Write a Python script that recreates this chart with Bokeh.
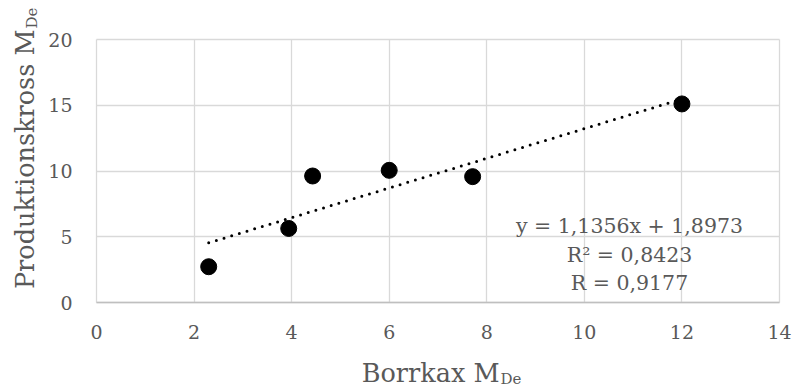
import numpy as np
from bokeh.plotting import figure
from bokeh.models import Label, FixedTicker, Range1d
from bokeh.embed import file_html
from bokeh.resources import INLINE

# Data
borrkax = [2.30, 3.94, 4.43, 6.00, 7.71, 12.00]
produktionskross = [2.72, 5.63, 9.62, 10.05, 9.57, 15.10]
x_ticks = [0, 2, 4, 6, 8, 10, 12, 14]
y_ticks = [0, 5, 10, 15, 20]
eq_lines = ["y = 1,1356x + 1,8973", "R\u00b2 = 0,8423", "R = 0,9177"]
x_title = ["Borrkax M", "De"]
y_title = ["Produktionskross M", "De"]

FONT = "DejaVu Serif"
GREY = "#595959"
GRID = "#d9d9d9"
AXIS = "#bfbfbf"

W, H = 794, 389
L, R, T, B = 96, 779, 39, 302  # plot-area edges in pixels
XMIN, XMAX = x_ticks[0], x_ticks[-1]
YMIN, YMAX = y_ticks[0], y_ticks[-1]
FIX = 8  # label baseline correction (px)

ux = (R - L) / (XMAX - XMIN)
uy = (B - T) / (YMAX - YMIN)
x_range = Range1d(XMIN - L / ux, XMIN - L / ux + W / ux)
y_range = Range1d(YMIN - (H - B) / uy, YMIN - (H - B) / uy + H / uy)

p = figure(width=W, height=H, output_backend="svg", toolbar_location=None,
           x_range=x_range, y_range=y_range,
           min_border_left=0, min_border_right=0,
           min_border_top=0, min_border_bottom=0)
p.background_fill_color = "white"
p.border_fill_color = "white"
p.outline_line_color = None

p.xaxis.fixed_location = YMIN
p.yaxis.fixed_location = XMIN
p.xaxis.bounds = (XMIN, XMAX)
p.yaxis.bounds = (YMIN, YMAX)
for ax, ticks in ((p.xaxis, x_ticks), (p.yaxis, y_ticks)):
    ax.ticker = FixedTicker(ticks=ticks)
    ax.axis_line_color = None
    ax.major_tick_line_color = None
    ax.minor_tick_line_color = None
    ax.major_tick_out = 0
    ax.major_tick_in = 0
    ax.major_label_text_font = FONT
    ax.major_label_text_font_size = "19px"
    ax.major_label_text_color = GREY
p.xaxis.axis_line_color = AXIS
p.xaxis.axis_line_width = 1.3
p.xaxis.major_label_standoff = 22
p.yaxis.major_label_standoff = 24

p.xgrid.ticker = FixedTicker(ticks=x_ticks)
p.ygrid.ticker = FixedTicker(ticks=y_ticks)
p.xgrid.bounds = (XMIN, XMAX)
p.ygrid.bounds = (YMIN, YMAX)
p.xgrid.cross_bounds = (YMIN, YMAX)
p.ygrid.cross_bounds = (XMIN, XMAX)
for g in (p.xgrid, p.ygrid):
    g.grid_line_color = GRID
    g.grid_line_width = 1.3

# trendline (linear fit)
slope, intercept = np.polyfit(borrkax, produktionskross, 1)
xs = np.array([min(borrkax), max(borrkax)])
p.line(xs, slope * xs + intercept, line_color="black", line_width=3,
       line_dash="0 8", line_cap="round")

p.scatter(borrkax, produktionskross, size=16, color="black")

# pixel -> data helpers for text placement
def dx(px):
    return XMIN + (px - L) / ux

def dy(py):
    return YMIN + (B - py) / uy

# equation label
for txt, base in zip(eq_lines, (233, 262, 290)):
    p.add_layout(Label(x=dx(629), y=dy(base - FIX), text=txt, text_font=FONT,
                       text_font_size="20.5px", text_color=GREY,
                       text_align="center", text_baseline="alphabetic"))

# x axis title with subscript
p.add_layout(Label(x=dx(499), y=dy(380 - FIX), text=x_title[0], text_font=FONT,
                   text_font_size="25.5px", text_color=GREY,
                   text_align="right", text_baseline="alphabetic"))
p.add_layout(Label(x=dx(500), y=dy(386 - FIX), text=x_title[1], text_font=FONT,
                   text_font_size="15px", text_color=GREY,
                   text_align="left", text_baseline="alphabetic"))

# y axis title with subscript (rotated)
p.add_layout(Label(x=dx(32 - FIX), y=dy(29), text=y_title[0], text_font=FONT,
                   text_font_size="25.5px", text_color=GREY, angle=np.pi / 2,
                   text_align="right", text_baseline="alphabetic"))
p.add_layout(Label(x=dx(39 - FIX), y=dy(28), text=y_title[1], text_font=FONT,
                   text_font_size="15px", text_color=GREY, angle=np.pi / 2,
                   text_align="left", text_baseline="alphabetic"))

open("out.html", "w").write(file_html(p, INLINE))
